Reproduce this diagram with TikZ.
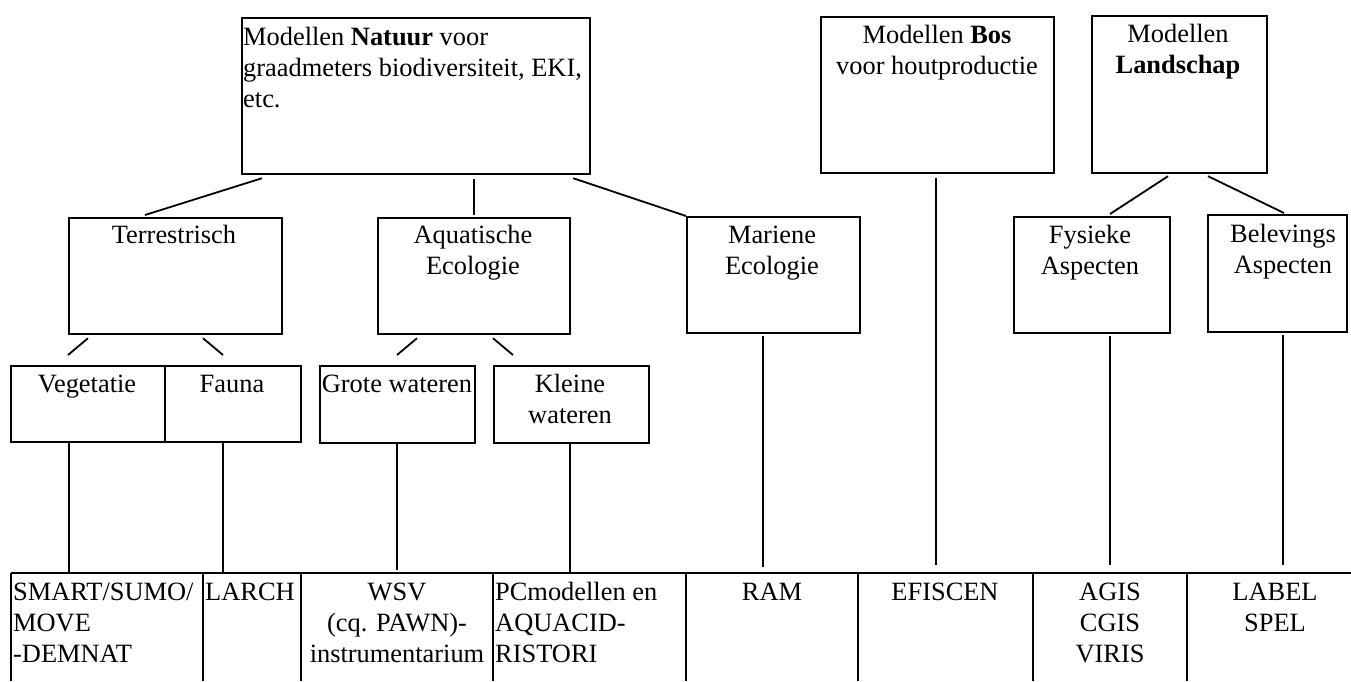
\documentclass[tikz,border=0pt]{standalone}
\usepackage{fontspec}
\setmainfont{Liberation Serif}
\usetikzlibrary{calc}
\newcommand\mystrut{\rule{0pt}{22pt}}
\begin{document}
\begin{tikzpicture}[x=1pt,y=-1pt,
  box/.style={draw, line width=2.2pt, inner sep=0pt, anchor=north west},
  cell/.style={inner sep=0pt, anchor=north west, minimum height=108pt},
  conn/.style={line width=1.8pt},
  tline/.style={line width=2pt},
  cline/.style={line width=1.4pt},
  txt/.style={inner sep=0pt, font=\fontsize{26.4}{31}\selectfont},
  ctxt/.style={txt, align=center, anchor=north},
  ltxt/.style={txt, align=left, anchor=north west},
]
\useasboundingbox (0,0) rectangle (1351,681);

% top level boxes
\node[box, minimum width=348pt, minimum height=156pt] (nat) at (241,17) {};
\node[box, minimum width=233pt, minimum height=156pt] (bos) at (820,16) {};
\node[box, minimum width=175pt, minimum height=157pt] (lan) at (1091,15) {};
% second level
\node[box, minimum width=213pt, minimum height=116pt] (ter) at (68,217) {};
\node[box, minimum width=192pt, minimum height=116pt] (aqu) at (377,217) {};
\node[box, minimum width=173pt, minimum height=116pt] (mar) at (686,216) {};
\node[box, minimum width=156pt, minimum height=116pt] (fys) at (1013,216) {};
\node[box, minimum width=139pt, minimum height=117pt] (bel) at (1207,214) {};
% third level
\node[box, minimum width=154pt, minimum height=76pt] (veg) at (10,365) {};
\node[box, minimum width=136pt, minimum height=76pt] (fau) at (164,365) {};
\node[box, minimum width=155pt, minimum height=77pt] (gro) at (319,365) {};
\node[box, minimum width=155pt, minimum height=77pt] (kle) at (493,365) {};

% table cells
\node[cell, minimum width=192pt] (c1) at (11,573) {};
\node[cell, minimum width=98pt] (c2) at (203,573) {};
\node[cell, minimum width=192pt] (c3) at (301,573) {};
\node[cell, minimum width=193pt] (c4) at (493,573) {};
\node[cell, minimum width=172pt] (c5) at (686,573) {};
\node[cell, minimum width=175pt] (c6) at (858,573) {};
\node[cell, minimum width=154pt] (c7) at (1033,573) {};
\node[cell, minimum width=164pt] (c8) at (1187,573) {};
\foreach \c in {c1,c2,c3,c4,c5,c6,c7,c8}
  \draw[cline] (\c.north west) -- (\c.south west);
\draw[tline] (c1.north west) -- (c8.north east);

% texts
\node[ltxt] (nat-t) at (243,23) {\mystrut Modellen \textbf{Natuur} voor\\graadmeters biodiversiteit, EKI,\\etc.};
\node[ctxt] (bos-t) at (937,21) {\mystrut Modellen \textbf{Bos}\\voor houtproductie};
\node[ctxt] (lan-t) at (1178,20) {\mystrut Modellen\\\textbf{Landschap}};
\node[ctxt] (ter-t) at (174,221) {\mystrut Terrestrisch};
\node[ctxt] (aqu-t) at (473,221) {\mystrut Aquatische\\Ecologie};
\node[ctxt] (mar-t) at (772,221) {\mystrut Mariene\\Ecologie};
\node[ctxt] (fys-t) at (1090,221) {\mystrut Fysieke\\Aspecten};
\node[ctxt] (bel-t) at (1283,220) {\mystrut Belevings\\Aspecten};
\node[ctxt] (veg-t) at (87,370) {\mystrut Vegetatie};
\node[ctxt] (fau-t) at (232,370) {\mystrut Fauna};
\node[ctxt] (gro-t) at (397,370) {\mystrut Grote wateren};
\node[ctxt] (kle-t) at (570,370) {\mystrut Kleine\\wateren};

\node[ltxt] (c1-t) at (13,578) {\mystrut SMART/SUMO/\\MOVE\\-DEMNAT};
\node[ltxt] (c2-t) at (205,578) {\mystrut LARCH};
\node[ctxt] (c3-t) at (397,578) {\mystrut WSV\\(cq. PAWN)-\\instrumentarium};
\node[ltxt] (c4-t) at (495,578) {\mystrut PCmodellen en\\AQUACID-\\RISTORI};
\node[ctxt] (c5-t) at (772,578) {\mystrut RAM};
\node[ctxt] (c6-t) at (945,578) {\mystrut EFISCEN};
\node[ctxt] (c7-t) at (1110,578) {\mystrut AGIS\\CGIS\\VIRIS};
\node[ctxt] (c8-t) at (1275,578) {\mystrut LABEL\\SPEL};

% connectors level 1 -> 2
\draw[conn] ($(nat.south west)+(21,3)$) -- ($(ter.north west)+(77,-2)$);
\draw[conn] ($(nat.south west)+(233,4)$) -- ($(aqu.north west)+(97,-2)$);
\draw[conn] ($(nat.south east)+(-18,3)$) -- (mar.north west);
\draw[conn] ($(lan.south west)+(77,2)$) -- ($(fys.north west)+(97,-2)$);
\draw[conn] ($(lan.south west)+(117,2)$) -- ($(bel.north west)+(77,-1)$);
% level 2 -> 3
\draw[conn] ($(ter.south west)+(20,3)$) -- ($(veg.north west)+(58,-10)$);
\draw[conn] ($(ter.south west)+(135,3)$) -- ($(fau.north west)+(59,-10)$);
\draw[conn] ($(aqu.south west)+(40,3)$) -- ($(gro.north west)+(78,-10)$);
\draw[conn] ($(aqu.south west)+(116,3)$) -- ($(kle.north west)+(20,-10)$);

% verticals to the table
\coordinate (v1) at ($(veg.south west)+(59,0)$);
\coordinate (v2) at ($(fau.south west)+(59,0)$);
\coordinate (v3) at ($(gro.south west)+(78,0)$);
\coordinate (v4) at ($(kle.south west)+(77,0)$);
\coordinate (v5) at ($(mar.south west)+(77,2)$);
\coordinate (v6) at ($(bos.south west)+(116,4)$);
\coordinate (v7) at ($(fys.south west)+(97,2)$);
\coordinate (v8) at ($(bel.south west)+(76,2)$);
\draw[cline] (v1) -- (v1 |- c1.north);
\draw[cline] (v2) -- (v2 |- c2.north);
\draw[cline] (v3) -- ($(v3 |- c3.north)+(0,-3)$);
\draw[cline] (v4) -- (v4 |- c4.north);
\draw[cline] (v5) -- ($(v5 |- c5.north)+(0,-6)$);
\draw[conn] (v6) -- ($(v6 |- c6.north)+(0,-8)$);
\draw[cline] (v7) -- ($(v7 |- c7.north)+(0,-8)$);
\draw[cline] (v8) -- ($(v8 |- c8.north)+(0,-8)$);
\end{tikzpicture}
\end{document}
